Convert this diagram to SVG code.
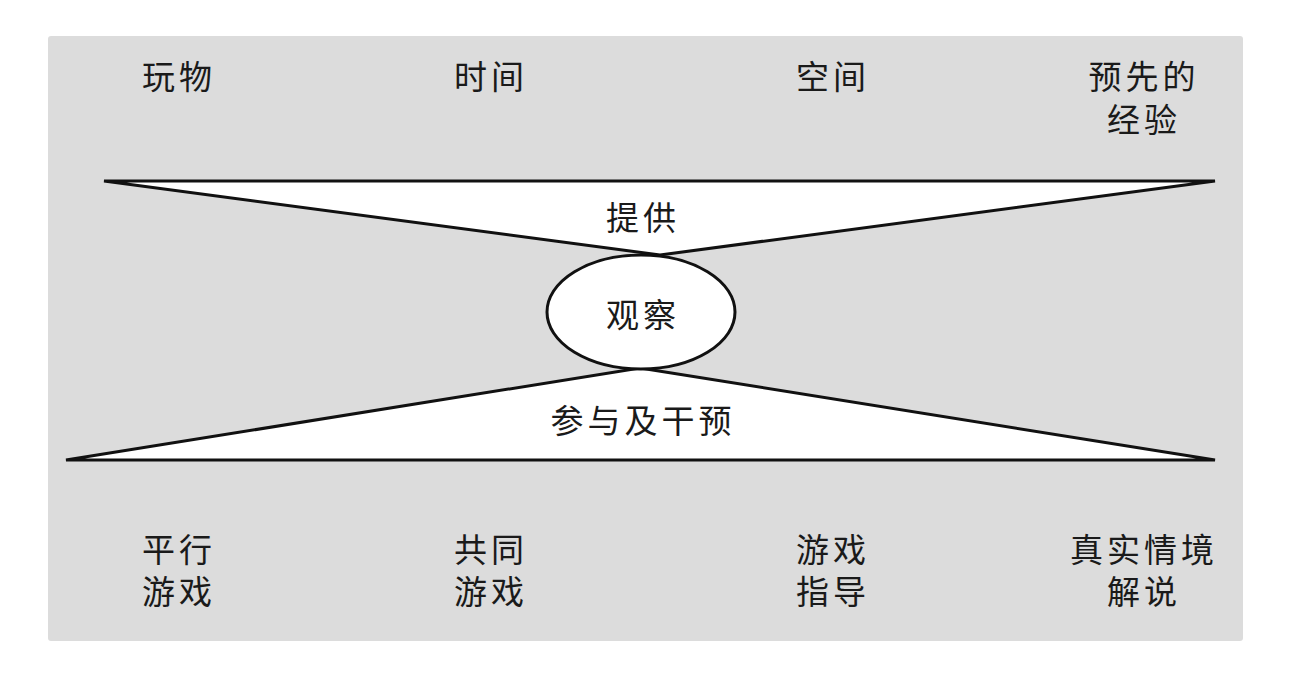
<svg xmlns="http://www.w3.org/2000/svg" width="1289" height="677" viewBox="0 0 1289 677">
<style>
.t{font-family:"Noto Sans CJK SC","Noto Sans",sans-serif;font-size:33px;fill:#1a1a1a;text-anchor:middle;dominant-baseline:central;letter-spacing:4px}
.s{fill:#fff;stroke:#111;stroke-width:3;stroke-linejoin:miter}
</style>
<rect x="48" y="36" width="1195" height="605" rx="3" fill="#dcdcdc"/>
<g id="connectors">
<polygon class="s" points="104,181 1215,181 660,255"/>
<polygon class="s" points="640,368 1215,460 66,460"/>
</g>
<g id="top-labels">
<text class="t" x="179" y="75">玩物</text>
<text class="t" x="491" y="75">时间</text>
<text class="t" x="833" y="75">空间</text>
<text class="t" x="1144" y="75"><tspan x="1144" y="75">预先的</tspan><tspan x="1144" y="118">经验</tspan></text>
</g>
<g id="provide"><text class="t" x="643" y="216">提供</text></g>
<g id="observe">
<ellipse class="s" cx="641" cy="312" rx="94" ry="57"/>
<text class="t" x="643" y="313">观察</text>
</g>
<g id="participate"><text class="t" x="643" y="419">参与及干预</text></g>
<g id="bottom-labels">
<text class="t"><tspan x="179" y="548">平行</tspan><tspan x="179" y="590">游戏</tspan></text>
<text class="t"><tspan x="491" y="548">共同</tspan><tspan x="491" y="590">游戏</tspan></text>
<text class="t"><tspan x="833" y="548">游戏</tspan><tspan x="833" y="590">指导</tspan></text>
<text class="t"><tspan x="1144" y="548">真实情境</tspan><tspan x="1144" y="590">解说</tspan></text>
</g>
</svg>
